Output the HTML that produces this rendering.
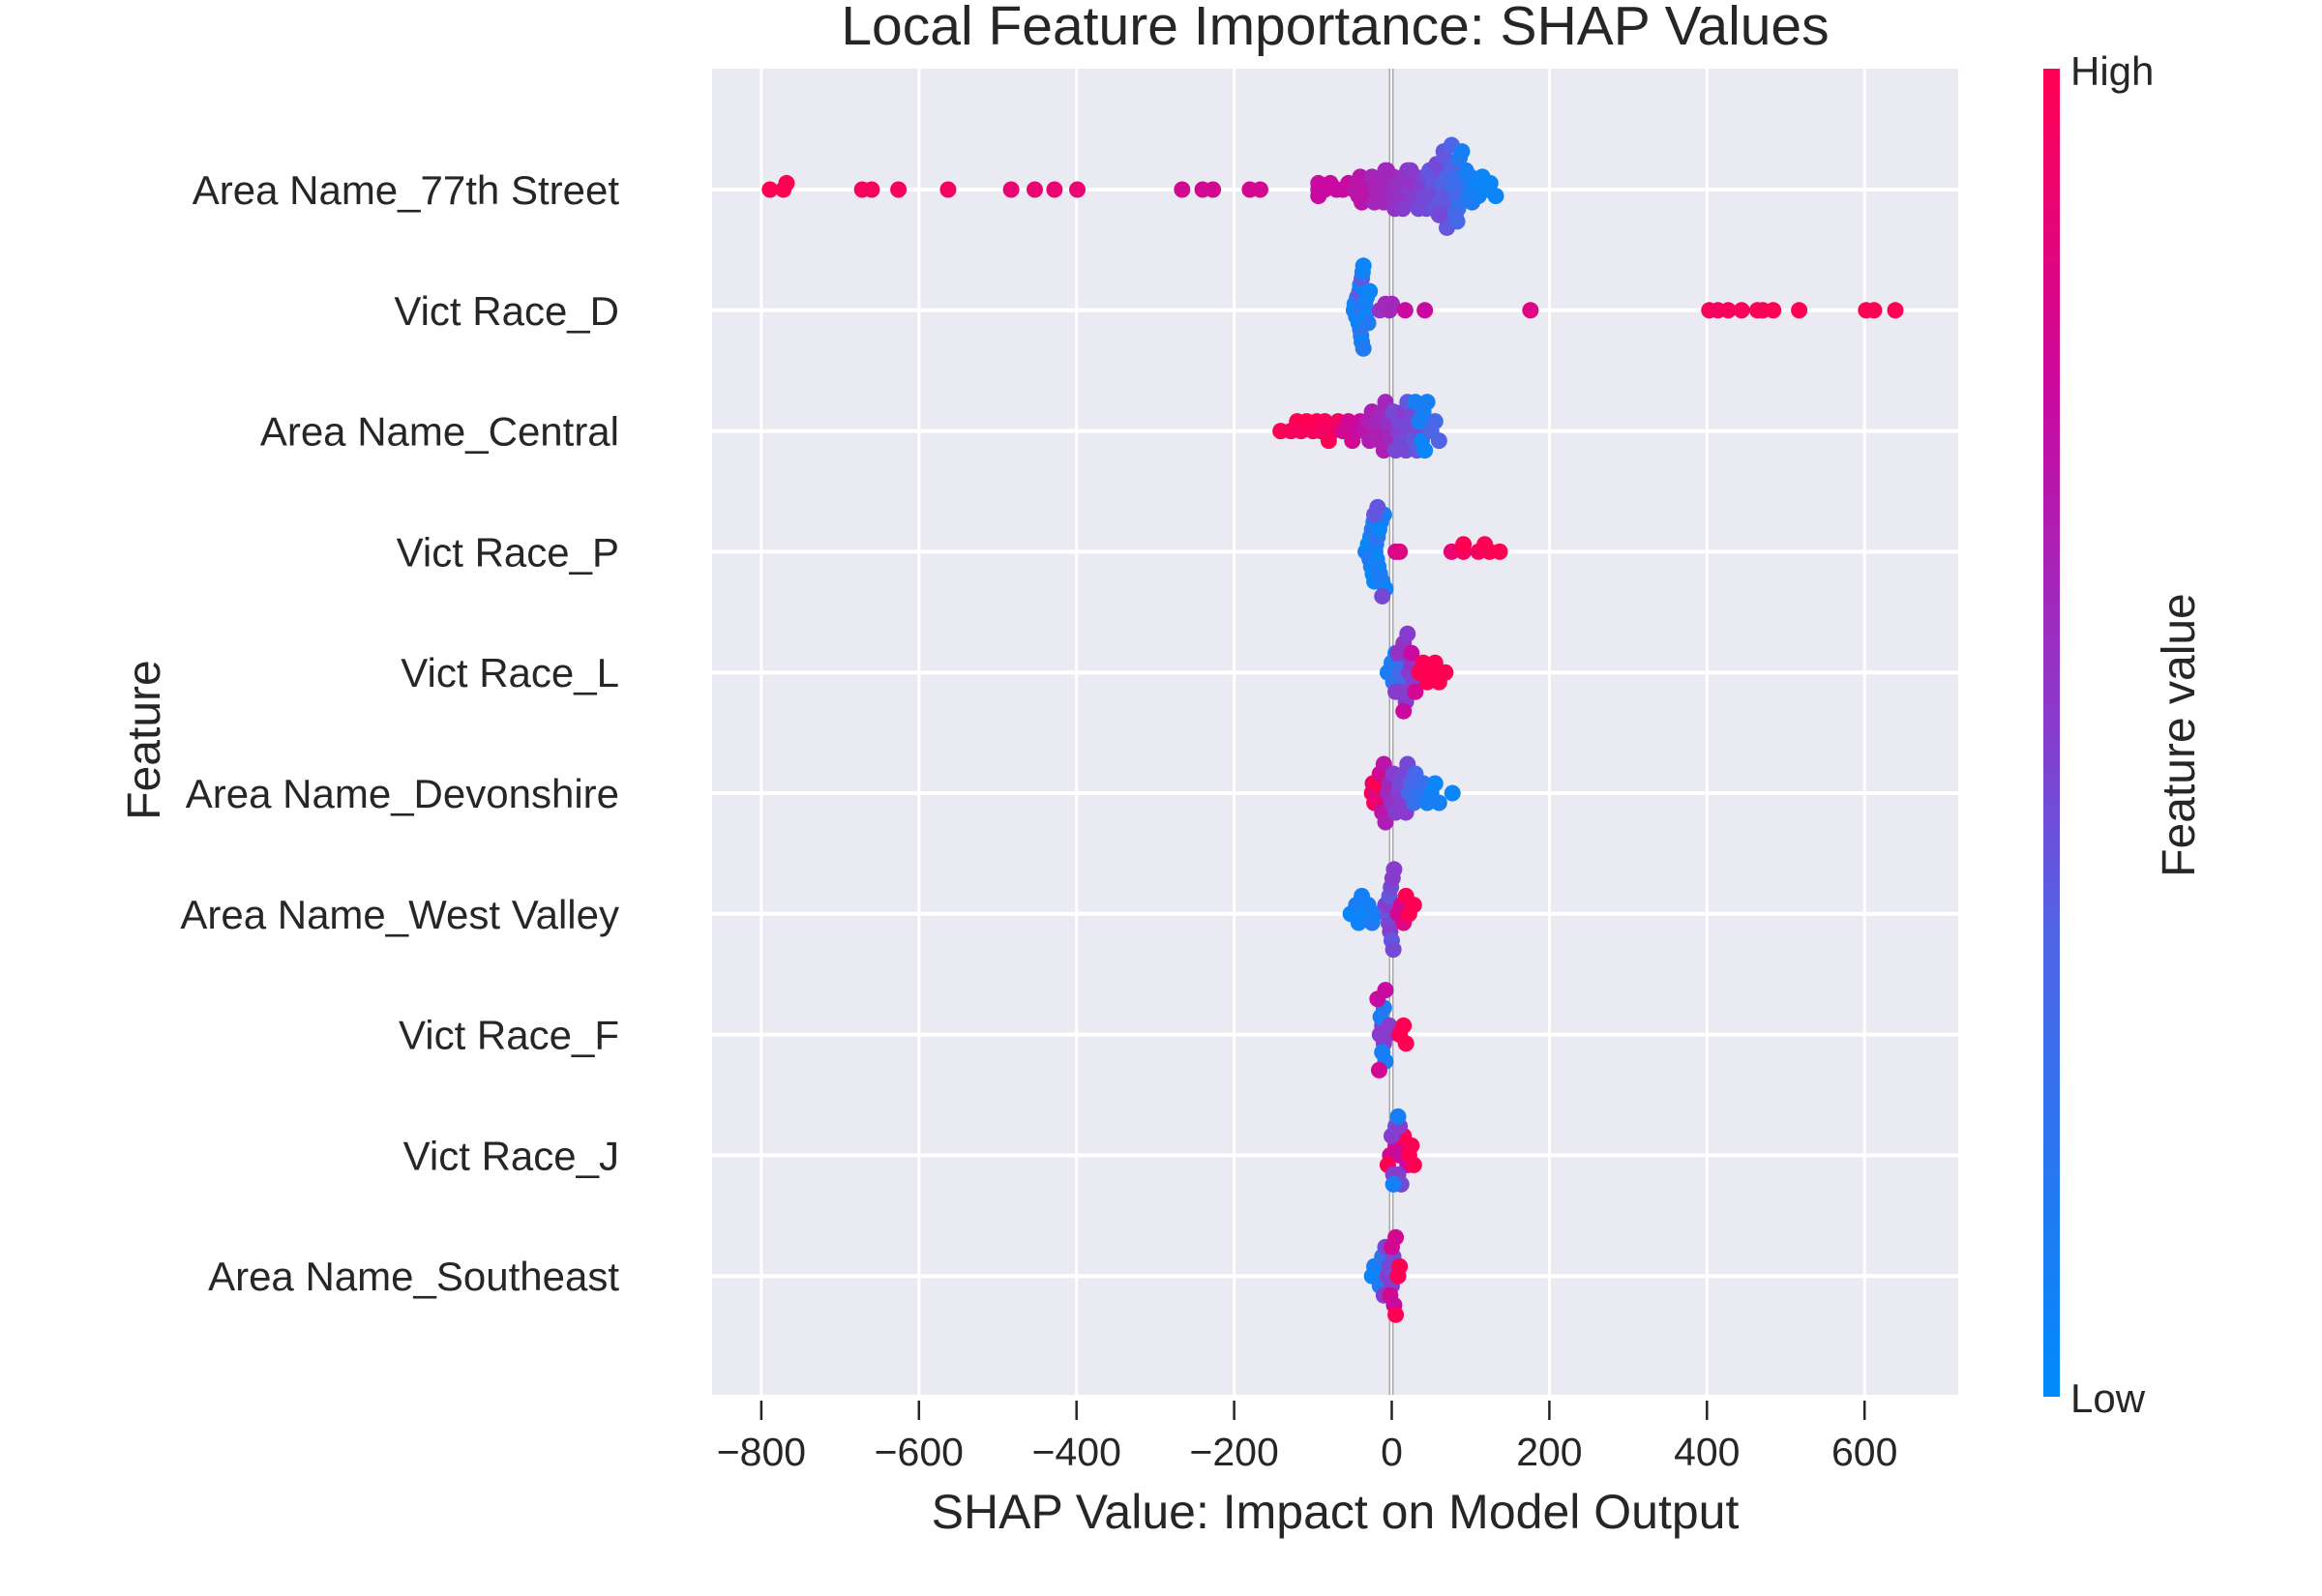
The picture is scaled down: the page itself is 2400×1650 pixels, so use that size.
<!DOCTYPE html>
<html><head><meta charset="utf-8"><style>
html,body{margin:0;padding:0;background:#fff;}
svg{display:block;font-family:"Liberation Sans",sans-serif;}
</style></head><body>
<svg id="chart" width="2400" height="1650" viewBox="0 0 2400 1650" xmlns="http://www.w3.org/2000/svg">
<defs><linearGradient id="cbg" x1="0" y1="1" x2="0" y2="0">
<stop offset="0" stop-color="rgb(0,138,251)"/><stop offset="0.35" stop-color="rgb(80,100,230)"/><stop offset="0.5" stop-color="rgb(135,60,205)"/><stop offset="0.75" stop-color="rgb(200,10,160)"/><stop offset="1" stop-color="rgb(255,0,82)"/></linearGradient></defs>
<rect x="736" y="71" width="1288" height="1371" fill="#eaeaf2"/>
<g id="grid"></g><g id="dots"></g><g id="axes"></g>
<text x="1380" y="46" font-size="57" fill="#262626" text-anchor="middle">Local Feature Importance: SHAP Values</text>
<text x="1380" y="1580" font-size="50" fill="#262626" text-anchor="middle">SHAP Value: Impact on Model Output</text>
<text x="0" y="0" font-size="48" fill="#262626" text-anchor="middle" transform="translate(165,765) rotate(-90)">Feature</text>
<rect x="2112" y="71" width="17" height="1373" fill="url(#cbg)"/>
<text x="2140" y="88" font-size="42" fill="#262626">High</text>
<text x="2140" y="1460" font-size="42" fill="#262626">Low</text>
<text x="0" y="0" font-size="48" fill="#262626" text-anchor="middle" transform="translate(2268,760) rotate(-90)">Feature value</text>
</svg>
<script>
const features = ["Area Name_77th Street","Vict Race_D","Area Name_Central","Vict Race_P","Vict Race_L","Area Name_Devonshire","Area Name_West Valley","Vict Race_F","Vict Race_J","Area Name_Southeast"];
const xTicks = [-800,-600,-400,-200,0,200,400,600];
const shap0 = [-789,-772,-768,-672,-660,-626,-563,-483,-453,-428,-399,-266,-240,-227,-180,-167,-93,-93,-93,-85,-78,-70,-62,-55,-48,-45,-42,-40,-38,-35,-32,-30,-25,-22,-20,-18,-15,-12,-10,-8,-5,-3,0,2,5,8,10,12,15,18,20,22,25,28,30,32,35,38,40,42,45,48,50,52,55,58,60,62,65,65,68,70,72,75,78,80,82,85,88,90,92,95,98,100,102,105,108,110,115,120,125,132,-6,4,14,24,34,44,54,64,74,84,94,57,63,67,71,77,81,86,60,66,70,76,83,89];
const feat0 = [1,1,1,0.97,0.97,0.97,0.95,0.9,0.9,0.9,0.9,0.8,0.8,0.8,0.8,0.8,0.75,0.75,0.75,0.75,0.75,0.75,0.75,0.75,0.7,0.7,0.7,0.7,0.7,0.7,0.7,0.7,0.62,0.62,0.62,0.62,0.62,0.62,0.6,0.6,0.6,0.6,0.58,0.58,0.58,0.55,0.55,0.55,0.55,0.55,0.55,0.5,0.55,0.5,0.55,0.5,0.5,0.5,0.45,0.45,0.45,0.4,0.45,0.4,0.45,0.4,0.4,0.45,0.4,0.35,0.4,0.35,0.4,0.3,0.3,0.25,0.3,0.25,0.3,0.2,0.3,0.2,0.1,0.1,0.15,0.1,0.05,0.1,0.05,0.05,0.05,0.05,0.6,0.55,0.5,0.5,0.45,0.45,0.4,0.4,0.35,0.2,0.1,0.45,0.4,0.4,0.35,0.35,0.3,0.15,0.45,0.4,0.4,0.35,0.3,0.1];
const shap1 = [-48,-47,-45,-44,-42,-41,-40,-40,-39,-38,-38,-37,-36,-36,-35,-34,-33,-32,-30,-28,-15,-8,-3,0,17,42,176,403,414,427,444,464,471,484,517,602,612,639];
const feat1 = [0.1,0.05,0.1,0.2,0.05,0.4,0.1,0.05,0.2,0.4,0.05,0.1,0.15,0.05,0.35,0.1,0.05,0.1,0.15,0.05,0.55,0.6,0.6,0.6,0.75,0.75,0.85,0.97,0.95,0.97,0.97,1,0.97,1,1,1,1,1];
const shap2 = [-141,-128,-120,-115,-108,-100,-95,-90,-85,-80,-75,-68,-62,-55,-50,-45,-40,-35,-30,-28,-25,-20,-18,-15,-12,-10,-8,-5,-3,0,2,5,8,10,12,15,18,20,22,25,28,30,32,35,30,35,38,40,42,45,50,55,60];
const feat2 = [1,0.97,1,0.95,1,0.97,1,0.95,0.97,1,0.95,0.95,0.8,0.8,0.8,0.75,0.75,0.7,0.65,0.65,0.65,0.65,0.6,0.65,0.6,0.65,0.6,0.6,0.55,0.6,0.45,0.45,0.5,0.45,0.45,0.5,0.45,0.4,0.45,0.45,0.4,0.45,0.4,0.45,0.1,0.1,0.05,0.1,0.05,0.1,0.35,0.3,0.35];
const shap3 = [-33,-30,-28,-27,-26,-25,-24,-23,-22,-21,-20,-19,-18,-17,-16,-15,-14,-12,-10,-8,-22,-18,-12,5,10,76,91,91,110,118,124,137];
const feat3 = [0.1,0.05,0.15,0.05,0.1,0.2,0.05,0.1,0.05,0.15,0.1,0.05,0.2,0.1,0.05,0.1,0.05,0.15,0.1,0.05,0.4,0.4,0.45,0.8,0.85,0.9,0.95,1,0.95,1,1,1];
const shap4 = [-5,0,2,5,10,12,18,5,8,12,15,18,20,22,25,28,15,25,30,35,40,45,50,55,60,68];
const feat4 = [0.1,0.15,0.2,0.1,0.3,0.25,0.3,0.5,0.55,0.5,0.55,0.5,0.5,0.5,0.55,0.5,0.75,0.75,0.8,1,1,1,1,1,1,1];
const shap5 = [-25,-24,-22,-20,-20,-18,-15,-12,-10,-8,-5,-3,0,2,5,8,10,12,15,18,20,22,25,28,30,35,40,45,50,55,60,77];
const feat5 = [1,0.9,1,0.85,1,0.9,0.8,0.7,0.7,0.65,0.6,0.6,0.55,0.5,0.5,0.5,0.45,0.5,0.45,0.5,0.45,0.3,0.3,0.25,0.3,0.2,0.25,0.1,0.1,0.05,0.1,0.05];
const shap6 = [-52,-48,-45,-42,-38,-35,-30,-25,-21,-8,-6,-5,-4,-3,-2,-1,0,1,2,3,8,12,15,18,22,28];
const feat6 = [0.05,0.05,0.1,0.05,0.1,0.05,0.1,0.15,0.1,0.45,0.4,0.5,0.45,0.4,0.5,0.45,0.4,0.5,0.45,0.5,0.8,0.8,0.85,1,1,1];
const shap7 = [-15,-12,-10,-14,-12,-10,-8,-18,-16,-8,-5,-3,10,15,18];
const feat7 = [0.5,0.5,0.5,0.1,0.1,0.15,0.1,0.75,0.8,0.75,0.5,0.5,1,1,1];
const shap8 = [-2,5,10,15,20,-5,15,22,25,28,0,2,5,8,10,12,2,8];
const feat8 = [0.8,0.8,0.75,0.8,0.75,1,1,1,1,1,0.5,0.5,0.45,0.5,0.5,0.45,0.1,0.1];
const shap9 = [-25,-22,-20,-18,-15,-12,-10,-8,-5,-3,0,2,-2,0,3,5,5,8,10];
const feat9 = [0.05,0.1,0.05,0.1,0.15,0.2,0.5,0.45,0.5,0.45,0.5,0.45,0.8,0.8,0.75,0.8,1,1,1];
const shapRows = [shap0,shap1,shap2,shap3,shap4,shap5,shap6,shap7,shap8,shap9];
const featRows = [feat0,feat1,feat2,feat3,feat4,feat5,feat6,feat7,feat8,feat9];

const NS="http://www.w3.org/2000/svg";
const X0=1438.5, XS=0.8145, ROW0=196, ROWH=124.8, PL=736, PR=2024, PT=71, PB=1442;
const xScale=v=>X0+v*XS;
const yScale=i=>ROW0+i*ROWH;
function mk(tag,attrs,parent){const e=document.createElementNS(NS,tag);for(const k in attrs)e.setAttribute(k,attrs[k]);parent.appendChild(e);return e;}
const stops=[[0,[0,138,251]],[0.35,[80,100,230]],[0.5,[135,60,205]],[0.75,[200,10,160]],[1,[255,0,82]]];
function cmap(t){for(let i=1;i<stops.length;i++){if(t<=stops[i][0]){const a=stops[i-1],b=stops[i];const f=(t-a[0])/(b[0]-a[0]);return 'rgb('+a[1].map((c,j)=>Math.round(c+(b[1][j]-c)*f)).join(',')+')';}}return 'rgb(255,0,82)';}
const grid=document.getElementById('grid'), axes=document.getElementById('axes'), dots=document.getElementById('dots');
xTicks.forEach(t=>{
  const gl=mk('line',{x1:xScale(t),x2:xScale(t),y1:PT,y2:PB,stroke:'#fff','stroke-width':3},grid);
  
  
  const tk=mk('line',{x1:xScale(t),x2:xScale(t),y1:1448,y2:1468,stroke:'#262626','stroke-width':2.5},axes);
  
  
  const tl=mk('text',{x:xScale(t),y:1515,'font-size':41,fill:'#262626','text-anchor':'middle'},axes);
  tl.textContent=(t<0?'\u2212'+(-t):String(t));
  
  
});
features.forEach((f,i)=>{
  const gl=mk('line',{x1:PL,x2:PR,y1:yScale(i),y2:yScale(i),stroke:'#fff','stroke-width':4},grid);
  
  
  const tl=mk('text',{x:640,y:yScale(i)+15,'font-size':42,fill:'#262626','text-anchor':'end'},axes);
  tl.textContent=f;
  
  
});
const zl=mk('rect',{x:xScale(0)-3,y:PT,width:5,height:PB-PT,fill:'#aaa'},grid);


mk('rect',{x:xScale(0)-1.5,y:PT,width:2,height:PB-PT,fill:'#f4f4f8'},grid);
// beeswarm layout
const BW=14;
shapRows.forEach((vals,ri)=>{
  const feats=featRows[ri];
  const N=vals.length;
  const q=vals.map(v=>Math.round(v/BW));
  const inds=[...vals.keys()].sort((a,b)=>q[a]-q[b]||a-b);
  const ys=new Array(N).fill(0); let layer=0,last=null;
  inds.forEach(k=>{ if(q[k]!==last) layer=0; ys[k]=Math.ceil(layer/2)*((layer%2)*2-1); layer++; last=q[k]; });
  const m=Math.max(...ys.map(y=>Math.abs(y)),1);
  const step=Math.min(10,46/m);
  vals.forEach((v,k)=>{
    const c=mk('circle',{cx:xScale(v),cy:yScale(ri)-ys[k]*step,r:8.5,fill:cmap(feats[k])},dots);
    
    
  });
});
</script>
</body></html>
